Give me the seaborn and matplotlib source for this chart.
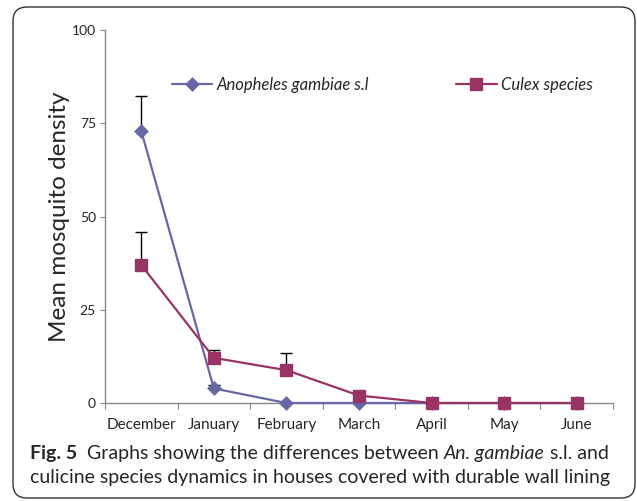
import matplotlib
matplotlib.use('Agg')
import matplotlib.pyplot as plt
import numpy as np
import pandas as pd
import seaborn as sns
from matplotlib.patches import FancyBboxPatch

sns.set_style('ticks')
plt.rcParams['font.family'] = ['Lato', 'DejaVu Sans']

months = ['December', 'January', 'February', 'March', 'April', 'May', 'June']
anopheles = [72.9, 3.9, 0, 0, 0, 0, 0]
anopheles_err = [9.4, 0.9, 0, 0, 0, 0, 0]
culex = [37, 12.1, 8.8, 2, 0, 0, 0]
culex_err = [8.8, 2.1, 4.5, 0, 0, 0, 0]
series_names = ['Anopheles gambiae s.l', 'Culex species']
y_ticks = [0, 25, 50, 75, 100]

colors = {'Anopheles gambiae s.l': '#6767a5', 'Culex species': '#993366'}
markers = {'Anopheles gambiae s.l': 'D', 'Culex species': 's'}
msizes = {'Anopheles gambiae s.l': 7, 'Culex species': 8}
medges = {'Anopheles gambiae s.l': 0.4, 'Culex species': 1.0}

pos = np.arange(len(months))
df = pd.DataFrame({
    'pos': np.concatenate([pos, pos]),
    'value': anopheles + culex,
    'err': anopheles_err + culex_err,
    'series': [series_names[0]] * len(months) + [series_names[1]] * len(months),
})

fig = plt.figure(figsize=(6.37, 5.01), dpi=100)
ax = fig.add_axes([105 / 637, 1 - 403 / 501, 508 / 637, 373 / 501])

# upper-only error bars (Excel style), skip zero ones
eb = df[df['err'] > 0]
ax.errorbar(eb['pos'], eb['value'], yerr=[np.zeros(len(eb)), eb['err']], fmt='none',
            ecolor='black', elinewidth=1, capsize=4, capthick=1, zorder=1)

for i, name in enumerate(series_names):
    sns.lineplot(data=df[df['series'] == name], x='pos', y='value', color=colors[name],
                 marker=markers[name], markersize=msizes[name], markeredgewidth=medges[name],
                 markeredgecolor=colors[name], linewidth=1.6, ax=ax, zorder=3 + i,
                 clip_on=False)

handles = [plt.Line2D([], [], color=colors[n], marker=markers[n], markersize=msizes[n],
                      markeredgewidth=medges[n], linewidth=1.6) for n in series_names]
ax.legend(handles, series_names, loc='center left', bbox_to_anchor=(0.118, 0.8525), ncol=2,
          frameon=False, handlelength=2.45, handletextpad=0.25, columnspacing=5.2,
          borderaxespad=0, prop={'style': 'italic', 'size': 12})

ax.set_xlim(-0.5, len(months) - 0.5)
ax.set_ylim(0, 100)
ax.set_yticks(y_ticks)
ax.set_yticklabels([str(t) for t in y_ticks], fontsize=10)
ax.set_xticks(np.arange(-0.5, len(months)), labels=[''] * (len(months) + 1))
ax.set_xticks(pos, labels=months, minor=True, fontsize=11)
ax.tick_params(axis='x', which='minor', length=0, pad=10.5)
ax.tick_params(axis='x', which='major', length=4, color='#888888', direction='out')
ax.tick_params(axis='y', length=3.5, color='#888888', direction='out', pad=3)
ax.set_xlabel('')
ax.set_ylabel('Mean mosquito density', fontsize=17.5, labelpad=1)
sns.despine(ax=ax)
for s in ['left', 'bottom']:
    ax.spines[s].set_color('#888888')
    ax.spines[s].set_linewidth(1)

# rounded frame
frame = FancyBboxPatch((13 / 637, 3 / 501), 622 / 637, 491 / 501,
                       boxstyle='round,pad=0,rounding_size=0.022', transform=fig.transFigure,
                       fc='none', ec='#333333', lw=1, zorder=0, mutation_aspect=637 / 501)
fig.patches.append(frame)

# caption with mixed styles
fig.canvas.draw()
renderer = fig.canvas.get_renderer()

def caption_line(parts, x, y):
    for text, kw in parts:
        t = fig.text(x, y, text, fontsize=14, va='baseline', transform=None, **kw)
        bb = t.get_window_extent(renderer)
        x = bb.x1

caption_line([('Fig. 5', {'weight': 'bold'}), ('  Graphs showing the differences between ', {}),
              ('An. gambiae', {'style': 'italic'}), (' s.l. and', {})], 30, 501 - 459)
caption_line([('culicine species dynamics in houses covered with durable wall lining', {})], 30, 501 - 483)

fig.savefig('out.png', dpi=100)
